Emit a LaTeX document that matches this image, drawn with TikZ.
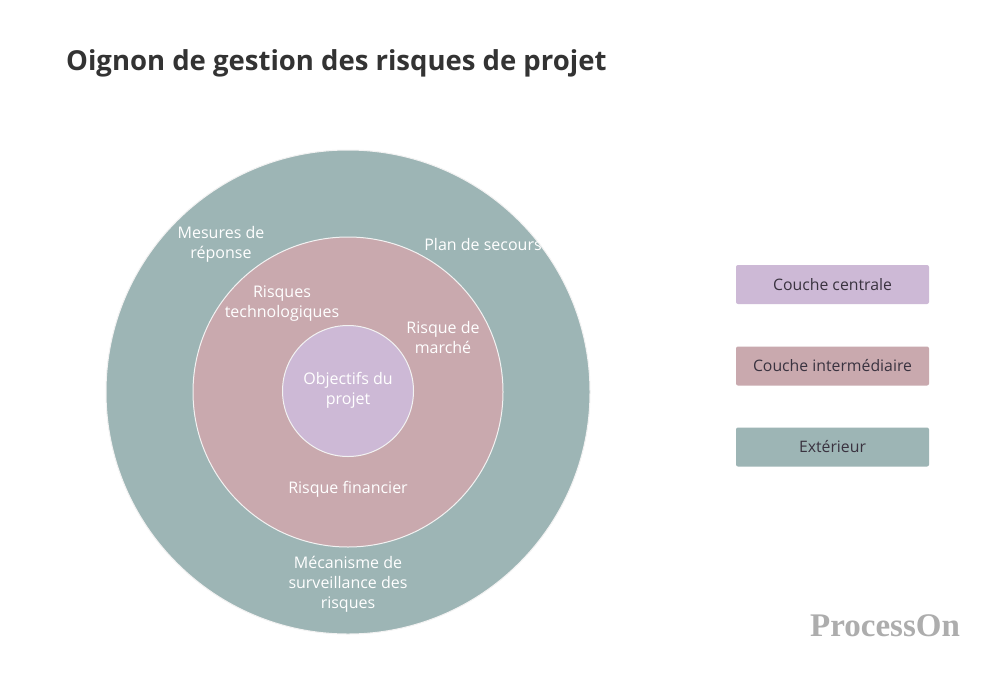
\documentclass[tikz,border=0pt]{standalone}
\usepackage{fontspec}
\setmainfont{Open Sans}
\newfontfamily\wmfont{Liberation Serif}
\definecolor{outerc}{HTML}{9DB5B5}
\definecolor{midc}{HTML}{C9A9AE}
\definecolor{innerc}{HTML}{CDB9D6}
\definecolor{titlec}{HTML}{333333}
\definecolor{legtxt}{HTML}{3A3340}
\definecolor{wmc}{HTML}{ADADAD}
\tikzset{
  ring/.style={circle, draw=white!90!gray, line width=1pt, inner sep=0pt},
  lbl/.style={text=white, font=\fontsize{16}{20}\selectfont, align=center, inner sep=0pt},
  legbox/.style={rectangle, rounded corners=2pt, minimum width=193pt, minimum height=39pt, inner sep=0pt, text=legtxt, font=\fontsize{15.8}{18}\selectfont},
}
\begin{document}
\begin{tikzpicture}[x=1pt,y=-1pt]
\useasboundingbox[fill=white] (0,0) rectangle (1000,685);
\node[anchor=west, text=titlec, font=\fontsize{27.5}{30}\selectfont\bfseries, inner sep=0pt] (title) at (66,63) {Oignon de gestion des risques de projet};
\node[ring, fill=outerc, minimum size=484pt] (outer) at (348,392) {};
\node[ring, fill=midc, minimum size=310pt] (mid) at (348,392) {};
\node[ring, fill=innerc, minimum size=131pt] (inner) at (348,391) {};
\node[lbl] (l1) at (221,244) {Mesures de\\réponse};
\node[lbl] (l2) at (483,244) {Plan de secours};
\node[lbl] (l3) at (282,304) {Risques\\technologiques};
\node[lbl] (l4) at (443,337) {Risque de\\marché};
\node[lbl] (l5) at (348,390) {Objectifs du\\projet};
\node[lbl] (l6) at (348,489) {Risque financier};
\node[lbl] (l7) at (348,584) {Mécanisme de\\surveillance des\\risques};
\node[legbox, fill=innerc] (k1) at (832.5,284.5) {Couche centrale};
\node[legbox, fill=midc] (k2) at (832.5,366) {Couche intermédiaire};
\node[legbox, fill=outerc] (k3) at (832.5,447) {Extérieur};
\node[text=wmc, font=\wmfont\fontsize{33}{36}\selectfont\bfseries, inner sep=0pt] (wm) at (885,626) {ProcessOn};
\end{tikzpicture}
\end{document}
